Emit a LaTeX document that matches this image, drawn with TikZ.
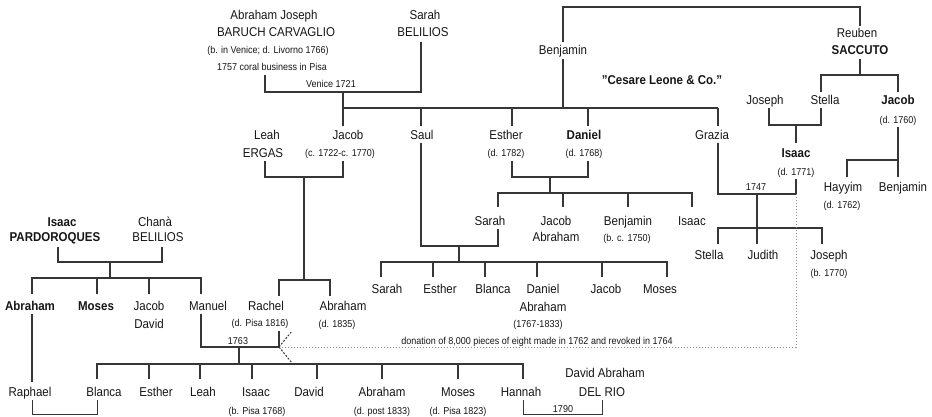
\documentclass[tikz,border=0pt]{standalone}
\usepackage{fontspec}
\setmainfont{Liberation Sans}[FakeStretch=0.9]
\definecolor{ln}{HTML}{363636}
\definecolor{tx}{HTML}{161616}
\definecolor{dt}{HTML}{8A8A8A}
\begin{document}
\begin{tikzpicture}[x=1pt,y=-1pt,
  nm/.style={anchor=base,inner sep=0pt,text=tx,yshift=-0.6pt,font=\fontsize{12.8}{14}\selectfont},
  bnm/.style={anchor=base,inner sep=0pt,text=tx,yshift=-0.6pt,font=\fontsize{12.8}{14}\selectfont\bfseries},
  sm/.style={anchor=base,inner sep=0pt,text=tx,yshift=-0.3pt,font=\fontsize{10}{11}\selectfont},
  lin/.style={draw=ln,line width=1.3pt,line join=miter},
  thin/.style={draw=ln,line width=0.8pt},
  dots/.style={draw=dt,line width=1pt,dotted},
  dsh/.style={draw=ln,line width=1pt,dash pattern=on 2pt off 1.5pt}]
\useasboundingbox[fill=white] (0,0) rectangle (932,416);

% ---------- top generation ----------
\node[nm] (abj1) at (274,19) {Abraham Joseph};
\node[nm] (abj2) at (276,36) {BARUCH CARVAGLIO};
\node[sm] (abj3) at (268,53.5) {(b. in Venice; d. Livorno 1766)};
\node[sm] (abj4) at (272,70.5) {1757 coral business in Pisa};
\node[nm] (sar1) at (425,19) {Sarah};
\node[nm] (sar2) at (423,36) {BELILIOS};
\node[sm] (ven) at (331,87.5) {Venice 1721};
\node[nm] (benj) at (563,54) {Benjamin};
\node[nm] (reu1) at (857,37) {Reuben};
\node[bnm] (reu2) at (860,54) {SACCUTO};
\node[bnm] (cesare) at (662,84) {\symbol{34}Cesare Leone \& Co.\symbol{34}};
\node[nm] (josephS) at (765,104) {Joseph};
\node[nm] (stellaS) at (825,104) {Stella};
\node[bnm] (jacobS) at (898,104) {Jacob};
\node[sm] (jacobSd) at (898,123.5) {(d. 1760)};

\coordinate (m1) at (343,92);
\draw[lin] (265,75) -- (265,92) -- (421,92) -- (421,42);
\draw[lin] (m1) -- (343,126);
\draw[lin] (343,108) -- (718,108);
\foreach \x in {421,512,588,718} \draw[lin] (\x,108) -- (\x,126);
\draw[lin] (563,108) -- (563,59);
\draw[lin] (563,42) -- (563,7) -- (860,7) -- (860,26);
\draw[lin] (860,59) -- (860,75);
\draw[lin] (821,92) -- (821,75) -- (898,75) -- (898,92);

% ---------- second generation ----------
\node[nm] (leah1) at (267,139) {Leah};
\node[nm] (leah2) at (263,157) {ERGAS};
\node[nm] (jacob1) at (348,139) {Jacob};
\node[sm] (jacob2) at (340,156.5) {(c. 1722-c. 1770)};
\node[nm] (saul) at (422,139) {Saul};
\node[nm] (esther1) at (506,139) {Esther};
\node[sm] (esther2) at (506,156.5) {(d. 1782)};
\node[bnm] (daniel1) at (584,139) {Daniel};
\node[sm] (daniel2) at (584,156.5) {(d. 1768)};
\node[nm] (grazia) at (712,139) {Grazia};
\node[bnm] (isaacS1) at (796,157) {Isaac};
\node[sm] (isaacS2) at (796,175.5) {(d. 1771)};
\node[nm] (hayyim1) at (843,191) {Hayyim};
\node[sm] (hayyim2) at (842,208.5) {(d. 1762)};
\node[nm] (benjS) at (903,191) {Benjamin};
\node[sm] (y1747) at (756,190.5) {1747};

\draw[lin] (769,108) -- (769,125) -- (821,125) -- (821,108);
\draw[lin] (796,125) -- (796,143);
\draw[lin] (898,127) -- (898,177);
\draw[lin] (898,160) -- (847,160) -- (847,177);
\draw[lin] (718,143) -- (718,194) -- (796,194) -- (796,179);
\draw[lin] (757,194) -- (757,244);
\draw[lin] (718,244) -- (718,228) -- (822,228) -- (822,244);

% ---------- third generation (right) ----------
\node[nm] (sarahD) at (490,225) {Sarah};
\node[nm] (jacobD1) at (556,225) {Jacob};
\node[nm] (jacobD2) at (556,241) {Abraham};
\node[nm] (benjD1) at (628,225) {Benjamin};
\node[sm] (benjD2) at (627,241.5) {(b. c. 1750)};
\node[nm] (isaacD) at (692,225) {Isaac};
\node[nm] (stellaG) at (709,259) {Stella};
\node[nm] (judithG) at (763,259) {Judith};
\node[nm] (josephG1) at (829,259) {Joseph};
\node[sm] (josephG2) at (829,276.5) {(b. 1770)};

\draw[lin] (265,161) -- (265,177) -- (343,177) -- (343,161);
\draw[lin] (304,177) -- (304,280);
\draw[lin] (279,296) -- (279,280) -- (330,280) -- (330,296);
\draw[lin] (512,161) -- (512,177) -- (588,177) -- (588,161);
\draw[lin] (550,177) -- (550,193);
\draw[lin] (498,207) -- (498,193) -- (692,193) -- (692,207);
\foreach \x in {563,628} \draw[lin] (\x,193) -- (\x,207);
\draw[lin] (421,143) -- (421,246) -- (498,246) -- (498,229);
\draw[lin] (459,246) -- (459,262);
\draw[lin] (381,277) -- (381,262) -- (667,262) -- (667,277);
\foreach \x in {433,485,537,602} \draw[lin] (\x,262) -- (\x,277);

\node[nm] (sS) at (387,293) {Sarah};
\node[nm] (eS) at (440,293) {Esther};
\node[nm] (bS) at (493,293) {Blanca};
\node[nm] (dS1) at (543,293) {Daniel};
\node[nm] (dS2) at (543,311) {Abraham};
\node[sm] (dS3) at (538,327.5) {(1767-1833)};
\node[nm] (jS) at (606,293) {Jacob};
\node[nm] (mS) at (660,293) {Moses};

% ---------- Pardoroques ----------
\node[bnm] (ip1) at (62,226) {Isaac};
\node[bnm] (ip2) at (55,241) {PARDOROQUES};
\node[nm] (cb1) at (155,226) {Chanà};
\node[nm] (cb2) at (158,241) {BELILIOS};
\draw[lin] (58,247) -- (58,262) -- (162,262) -- (162,247);
\draw[lin] (110,262) -- (110,278);
\draw[lin] (32,294) -- (32,278) -- (201,278) -- (201,294);
\foreach \x in {97,149} \draw[lin] (\x,278) -- (\x,294);

\node[bnm] (abP) at (30,310) {Abraham};
\node[bnm] (moP) at (96,310) {Moses};
\node[nm] (jdP1) at (149,310) {Jacob};
\node[nm] (jdP2) at (149,328) {David};
\node[nm] (manuel) at (208,310) {Manuel};
\node[nm] (rachel1) at (266,310) {Rachel};
\node[sm] (rachel2) at (260,326.5) {(d. Pisa 1816)};
\node[nm] (abL1) at (343,310) {Abraham};
\node[sm] (abL2) at (337,327.5) {(d. 1835)};

% ---------- Manuel & Rachel ----------
\node[sm] (y1763) at (238,344.5) {1763};
\node[sm] (don) at (537,344.5) {donation of 8,000 pieces of eight made in 1762 and revoked in 1764};
\draw[dots] (796,194) -- (796,347) -- (279,347);
\draw[lin] (32,314) -- (32,382);
\draw[lin] (201,314) -- (201,347) -- (279,347) -- (279,331);
\draw[lin] (239,347) -- (239,364);
\draw[lin] (97,379) -- (97,364) -- (523,364) -- (523,379);
\foreach \x in {149,200,252,317,382,458} \draw[lin] (\x,364) -- (\x,379);
\draw[dsh] (279,347) -- (292,331);
\draw[dsh] (279,347) -- (292,363);

\node[nm] (raphael) at (30,396) {Raphael};
\node[nm] (blanca) at (104,396) {Blanca};
\node[nm] (estherM) at (156,396) {Esther};
\node[nm] (leahM) at (203,396) {Leah};
\node[nm] (isaacM1) at (256,396) {Isaac};
\node[sm] (isaacM2) at (257,414) {(b. Pisa 1768)};
\node[nm] (davidM) at (309,396) {David};
\node[nm] (abrM1) at (382,396) {Abraham};
\node[sm] (abrM2) at (382,414) {(d. post 1833)};
\node[nm] (mosM1) at (458,396) {Moses};
\node[sm] (mosM2) at (458,414) {(d. Pisa 1823)};
\node[nm] (hannah) at (521,396) {Hannah};
\node[nm] (dar1) at (605,377) {David Abraham};
\node[nm] (dar2) at (602,396) {DEL RIO};
\node[sm] (y1790) at (563,412.5) {1790};
\draw[thin] (32,400) -- (32,414.5) -- (97,414.5) -- (97,400);
\draw[thin] (523,400) -- (523,414.5) -- (602,414.5) -- (602,400);
\end{tikzpicture}
\end{document}
